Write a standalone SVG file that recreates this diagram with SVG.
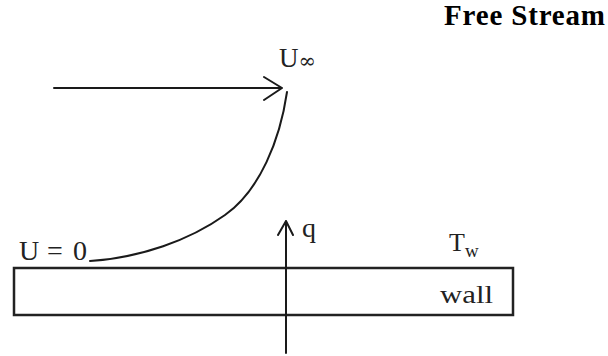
<svg xmlns="http://www.w3.org/2000/svg" width="608" height="356" viewBox="0 0 608 356">
<style>
.ln{fill:none;stroke:#1a1a1a;stroke-width:2;stroke-linecap:round;stroke-linejoin:round}
.lbl{font-family:"Liberation Serif","Times New Roman",serif;fill:#222}
.title{font-family:"Liberation Serif","Times New Roman",serif;font-weight:bold;font-size:29px;fill:#000}
</style>
<rect width="608" height="356" fill="#fff"/>
<g id="title"><text class="title" x="444" y="25" textLength="161">Free Stream</text></g>
<g id="wall">
<rect x="14" y="268" width="499" height="47" fill="none" stroke="#222" stroke-width="2.5"/>
<text class="lbl" x="440" y="303" font-size="25" textLength="53" lengthAdjust="spacingAndGlyphs">wall</text>
</g>
<g id="label-uinf"><text class="lbl" x="279" y="67" font-size="27">U<tspan font-family="DejaVu Serif" font-size="21" dy="1">∞</tspan></text></g>
<g id="label-u0"><text class="lbl" font-size="28" y="260"><tspan x="19">U</tspan><tspan x="47">=</tspan><tspan x="73">0</tspan></text></g>
<g id="label-tw"><text class="lbl" x="449" y="251" font-size="26">T<tspan font-size="19" dy="6">w</tspan></text></g>
<g id="label-q"><text class="lbl" x="302" y="237" font-size="28">q</text></g>
<g id="connectors">
<path class="ln" d="M54,88 H282 M264,77 L282,88 L264,100"/>
<path class="ln" d="M90,261 C140,258 190,240 225,215 C260,190 280,140 287,92"/>
<path class="ln" d="M286,353 V221 M278,235 L286,221 L293,235"/>
</g>
</svg>
